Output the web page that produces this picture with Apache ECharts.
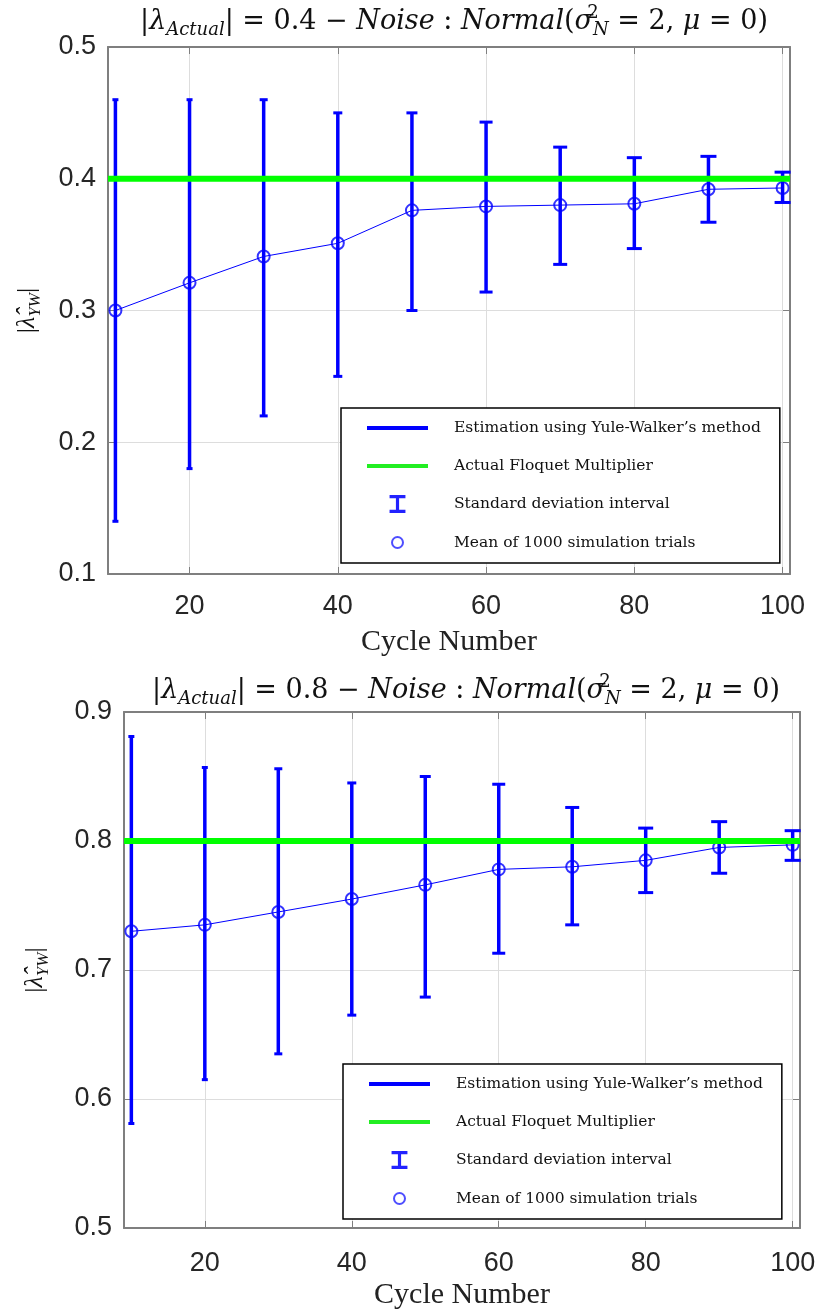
<!DOCTYPE html>
<html><head><meta charset="utf-8">
<script src="https://cdn.jsdelivr.net/npm/echarts@6/dist/echarts.min.js"></script>
<style>html,body{margin:0;padding:0;background:#fff}#c{width:816px;height:1310px}</style>
</head><body><div id="c"></div>
<script>
// ---------- data ----------
const cycles = [10, 20, 30, 40, 50, 60, 70, 80, 90, 100];
const xLimits = [9, 101];

const actualA = 0.4;
const meanA  = [0.300, 0.321, 0.341, 0.351, 0.376, 0.379, 0.380, 0.381, 0.392, 0.393];
const upperA = [0.460, 0.460, 0.460, 0.450, 0.450, 0.443, 0.424, 0.416, 0.417, 0.405];
const lowerA = [0.140, 0.180, 0.220, 0.250, 0.300, 0.314, 0.335, 0.347, 0.367, 0.382];
const yRangeA = [0.1, 0.5];

const actualB = 0.8;
const meanB  = [0.730, 0.735, 0.745, 0.755, 0.766, 0.778, 0.780, 0.785, 0.795, 0.797];
const upperB = [0.881, 0.857, 0.856, 0.845, 0.850, 0.844, 0.826, 0.810, 0.815, 0.808];
const lowerB = [0.581, 0.615, 0.635, 0.665, 0.679, 0.713, 0.735, 0.760, 0.775, 0.785];
const yRangeB = [0.5, 0.9];
const yStep = 0.1;

const legendNames = [
  "Estimation using Yule-Walker\u2019s method",
  "Actual Floquet Multiplier",
  "Standard deviation interval",
  "Mean of 1000 simulation trials"
];
const xName = "Cycle Number";

// ---------- styles ----------
const BLUE = '#0000ff';
const GREEN = '#00ff00';
const capHalf = [3, 3, 4, 4.5, 5.5, 6.5, 7, 7.5, 8, 8];
const serif = 'Liberation Serif';
const axisGray = '#7f7f7f';
const gridGray = '#dddddd';
const tickFont = {fontFamily: 'Liberation Sans', fontSize: 27, color: '#262626'};

const mathRich = (size, fam) => {
  const f = fam || serif;
  const s = Math.round(size * 0.65);
  return {
    r:  {fontFamily: f, fontWeight: 'normal', fontSize: size, color: '#111', lineHeight: size + 8},
    i:  {fontFamily: f, fontWeight: 'normal', fontStyle: 'italic', fontSize: size, color: '#111', lineHeight: size + 8},
    sb: {fontFamily: f, fontWeight: 'normal', fontStyle: 'italic', fontSize: s, color: '#111', lineHeight: s + 2, verticalAlign: 'bottom'},
    sp: {fontFamily: f, fontWeight: 'normal', fontSize: s, color: '#111', lineHeight: s + 6, verticalAlign: 'top', width: 0, align: 'left'}
  };
};

const titleText = (v) =>
  `{r||}{i|\u03bb}{sb|Actual}{r|| = ${v} \u2212 }{i|Noise}{r| : }{i|Normal}{r|(}{i|\u03c3}{sp|2}{sb|N}{r| = 2, }{i|\u03bc}{r| = 0)}`;
const yNameText = `{r||}{i|\u03bb\u0302}{sb|YW}{r||}`;

const grids = [
  {left: 108, top: 47, width: 682, height: 527, outerBoundsMode: 'none', containLabel: false},
  {left: 124, top: 712, width: 676, height: 516, outerBoundsMode: 'none', containLabel: false}
];

function xAxes(gi, nameGap, labelMargin) {
  return [
    {
      type: 'value', gridIndex: gi, position: 'bottom',
      min: xLimits[0], max: xLimits[1], splitNumber: 5,
      name: xName, nameLocation: 'middle', nameGap: nameGap,
      nameTextStyle: {fontFamily: serif, fontSize: 30, color: '#222'},
      axisLine: {show: true, onZero: false, lineStyle: {color: axisGray, width: 2}},
      axisTick: {show: true, inside: true, length: 7, lineStyle: {color: axisGray, width: 1}},
      axisLabel: Object.assign({margin: labelMargin, showMinLabel: false, showMaxLabel: false}, tickFont),
      splitLine: {show: true, lineStyle: {color: gridGray, width: 1}}
    },
    {
      type: 'value', gridIndex: gi, position: 'top',
      min: xLimits[0], max: xLimits[1], splitNumber: 5,
      axisLine: {show: true, onZero: false, lineStyle: {color: axisGray, width: 2}},
      axisTick: {show: true, inside: true, length: 7, lineStyle: {color: axisGray, width: 1}},
      axisLabel: {show: false}, splitLine: {show: false}
    }
  ];
}
function yAxes(gi, range, nameGap) {
  return [
    {
      type: 'value', gridIndex: gi, position: 'left',
      min: range[0], max: range[1], interval: yStep,
      name: yNameText, nameLocation: 'middle', nameGap: nameGap, nameRotate: 90,
      nameTextStyle: {rich: mathRich(26)},
      axisLine: {show: true, onZero: false, lineStyle: {color: axisGray, width: 2}},
      axisTick: {show: true, inside: true, length: 7, lineStyle: {color: axisGray, width: 1}},
      axisLabel: Object.assign({margin: 12, formatter: (v) => v.toFixed(1)}, tickFont),
      splitLine: {show: true, lineStyle: {color: gridGray, width: 1}}
    },
    {
      type: 'value', gridIndex: gi, position: 'right',
      min: range[0], max: range[1], interval: yStep,
      axisLine: {show: true, onZero: false, lineStyle: {color: axisGray, width: 2}},
      axisTick: {show: true, inside: true, length: 7, lineStyle: {color: axisGray, width: 1}},
      axisLabel: {show: false}, splitLine: {show: false}
    }
  ];
}

function errRender(params, api) {
  const x = api.value(0), lo = api.value(1), hi = api.value(2);
  const pLo = api.coord([x, lo]);
  const pHi = api.coord([x, hi]);
  const hw = capHalf[params.dataIndex];
  const st = {stroke: BLUE, lineWidth: 3.5};
  const cs = {stroke: BLUE, lineWidth: 3};
  return {
    type: 'group',
    children: [
      {type: 'line', shape: {x1: pHi[0], y1: pHi[1], x2: pLo[0], y2: pLo[1]}, style: st},
      {type: 'line', shape: {x1: pHi[0] - hw, y1: pHi[1], x2: pHi[0] + hw, y2: pHi[1]}, style: cs},
      {type: 'line', shape: {x1: pLo[0] - hw, y1: pLo[1], x2: pLo[0] + hw, y2: pLo[1]}, style: cs}
    ]
  };
}

function seriesFor(gi, mean, lower, upper, actual) {
  const xi = gi * 2, yi = gi * 2;
  return [
    {
      name: legendNames[0], type: 'line', xAxisIndex: xi, yAxisIndex: yi,
      data: cycles.map((c, i) => [c, mean[i]]),
      symbol: 'none', color: BLUE, lineStyle: {color: BLUE, width: 1}, z: 3, silent: true
    },
    {
      name: legendNames[1], type: 'line', xAxisIndex: xi, yAxisIndex: yi,
      data: [[xLimits[0], actual], [xLimits[1], actual]],
      symbol: 'none', color: GREEN, lineStyle: {color: GREEN, width: 6}, z: 6, silent: true
    },
    {
      name: legendNames[2], type: 'custom', xAxisIndex: xi, yAxisIndex: yi,
      data: cycles.map((c, i) => [c, lower[i], upper[i]]),
      encode: {x: 0, y: [1, 2]}, renderItem: errRender, clip: false,
      itemStyle: {color: BLUE}, z: 4, silent: true
    },
    {
      name: legendNames[3], type: 'scatter', xAxisIndex: xi, yAxisIndex: yi,
      data: cycles.map((c, i) => [c, mean[i]]),
      symbol: 'circle', symbolSize: 12,
      itemStyle: {color: 'rgba(0,0,0,0)', borderColor: BLUE, borderWidth: 2},
      z: 5, silent: true
    }
  ];
}

const LINE_ICON = 'path://M0,7H61V11H0Z';
const IBAR_ICON = 'path://M1,1H16V4H10V15H16V18H1V15H7V4H1Z';
const CIRC_ICON = 'path://M0,0M18,18M14.5,9A5.5,5.5,0,1,1,3.5,9A5.5,5.5,0,1,1,14.5,9Z';

function legendFor(left, top) {
  return {
    orient: 'vertical', left: left, top: top,
    padding: [10.5, 19, 10.5, 26], itemGap: 19, itemWidth: 61, itemHeight: 18,
    symbolKeepAspect: true, selectedMode: false,
    borderColor: '#000', borderWidth: 1.5, backgroundColor: '#fff',
    textStyle: {fontFamily: 'DejaVu Serif', fontSize: 15.5, lineHeight: 19, color: '#111', padding: [0, 0, 0, 21]},
    data: [
      {name: legendNames[0], icon: LINE_ICON, itemStyle: {color: BLUE, borderWidth: 0}},
      {name: legendNames[1], icon: LINE_ICON, itemStyle: {color: '#22ee22', borderWidth: 0}},
      {name: legendNames[2], icon: IBAR_ICON, itemStyle: {color: '#2222ff', borderWidth: 0}},
      {name: legendNames[3], icon: CIRC_ICON, itemStyle: {color: 'rgba(0,0,0,0)', borderColor: '#2222ff', borderWidth: 2}}
    ]
  };
}

const chart = echarts.init(document.getElementById('c'), null, {renderer: 'canvas'});
chart.setOption({
  animation: false,
  backgroundColor: '#fff',
  title: [
    {text: titleText(actualA), left: 449, top: -1, textAlign: 'center', textStyle: {fontWeight: 'normal', rich: mathRich(27, 'DejaVu Serif')}},
    {text: titleText(actualB), left: 461, top: 668, textAlign: 'center', textStyle: {fontWeight: 'normal', rich: mathRich(27, 'DejaVu Serif')}}
  ],
  grid: grids,
  xAxis: [...xAxes(0, 53, 19), ...xAxes(1, 52, 22)],
  yAxis: [...yAxes(0, yRangeA, 64), ...yAxes(1, yRangeB, 72)],
  legend: [legendFor(341, 408), legendFor(343, 1064)],
  series: [
    ...seriesFor(0, meanA, lowerA, upperA, actualA),
    ...seriesFor(1, meanB, lowerB, upperB, actualB)
  ]
});
</script></body></html>
